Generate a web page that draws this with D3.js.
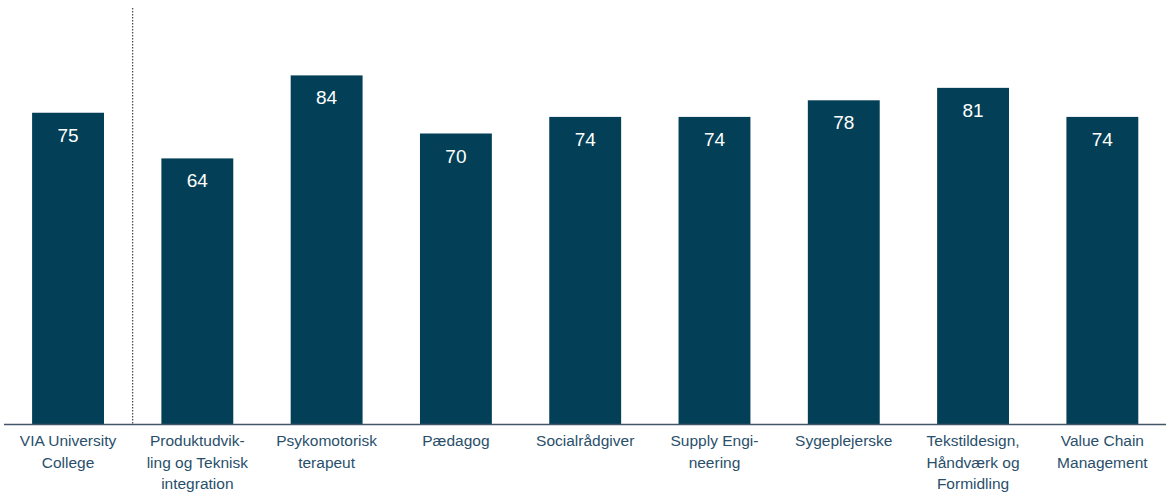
<!DOCTYPE html>
<html><head><meta charset="utf-8">
<script src="https://cdn.jsdelivr.net/npm/d3@7"></script>
<style>body{margin:0;background:#fff}svg{display:block}</style>
</head><body>
<svg id="c" width="1169" height="492"></svg>
<script>
const categories = [
  ["VIA University","College"],
  ["Produktudvik-","ling og Teknisk","integration"],
  ["Psykomotorisk","terapeut"],
  ["Pædagog"],
  ["Socialrådgiver"],
  ["Supply Engi-","neering"],
  ["Sygeplejerske"],
  ["Tekstildesign,","Håndværk og","Formidling"],
  ["Value Chain","Management"]
];
const values = [75, 64, 84, 70, 74, 74, 78, 81, 74];

const svg = d3.select("#c");
const keys = categories.map((d,i)=>i);
const x = d3.scaleBand().domain(keys).range([3.4, 1167]).paddingInner(0.444).paddingOuter(0.222);
const y = d3.scaleLinear().domain([0, 100]).range([424, 9]);
const font = "'Liberation Sans', Arial, sans-serif";

svg.append("g").selectAll("rect").data(values).join("rect")
  .attr("x",(d,i)=>x(i)).attr("width",x.bandwidth())
  .attr("y",d=>y(d)).attr("height",d=>y(0)-y(d))
  .attr("fill","#033f56");

svg.append("g").selectAll("text").data(values).join("text")
  .attr("x",(d,i)=>x(i)+x.bandwidth()/2).attr("y",d=>y(d)+29)
  .attr("text-anchor","middle").attr("fill","#fff")
  .attr("font-family",font).attr("font-size",19).text(d=>d);

// separator
const sepX = (x(0)+x.bandwidth()+x(1))/2;
svg.append("line").attr("x1",sepX).attr("x2",sepX).attr("y1",y(100)-1).attr("y2",y(0))
  .attr("stroke","#222").attr("stroke-width",1).attr("stroke-dasharray","1.5,1.5");

// axis
svg.append("line").attr("x1",4).attr("x2",1166).attr("y1",y(0)+0.5).attr("y2",y(0)+0.5)
  .attr("stroke","#44546a").attr("stroke-width",1.3);

const lab = svg.append("g").selectAll("text").data(categories).join("text")
  .attr("text-anchor","middle").attr("fill","#2a4f6b")
  .attr("font-family",font).attr("font-size",15.5)
  .attr("x",(d,i)=>x(i)+x.bandwidth()/2).attr("y",446);
lab.selectAll("tspan").data(d=>d).join("tspan")
  .attr("x",function(){return this.parentNode.getAttribute("x");})
  .attr("dy",(d,j)=>j===0?0:21.5).text(d=>d);
</script>
</body></html>
